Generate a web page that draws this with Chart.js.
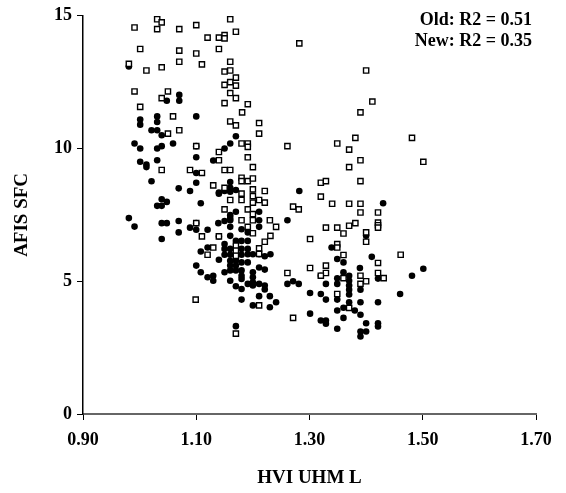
<!DOCTYPE html>
<html>
<head>
	<meta charset="utf-8">
	<title>AFIS SFC vs HVI UHML</title>
	<script type="text/javascript" src="https://cdn.jsdelivr.net/npm/chart.js@4/dist/chart.umd.min.js"></script>
	<style>
		body { margin: 0; background: #fff; }
	</style>
</head>
<body>
	<canvas id="myChart" width="566" height="493"></canvas>
	<script>
		// filled circles (Old)
		var oldX = [0.981,1.070,1.070,1.048,1.001,1.001,1.031,1.031,1.100,1.021,1.031,1.039,1.170,0.991,1.001,1.031,1.039,1.059,1.100,1.100,
			1.001,1.012,1.012,1.031,1.021,1.100,1.100,1.069,1.089,1.130,1.150,1.160,1.039,1.048,1.031,1.039,1.108,0.981,0.991,1.039,
			1.048,1.069,1.039,1.069,1.089,1.100,1.100,1.120,1.139,1.150,1.160,1.140,1.150,1.100,1.120,1.108,1.140,1.160,1.160,1.170,
			1.140,1.160,1.170,1.160,1.211,1.160,1.160,1.180,1.211,1.211,1.191,1.160,1.170,1.180,1.191,1.150,1.150,1.160,1.170,1.180,
			1.191,1.150,1.160,1.170,1.180,1.191,1.200,1.211,1.221,1.231,1.140,1.160,1.170,1.180,1.191,1.160,1.170,1.160,1.170,1.180,
			1.108,1.120,1.130,1.130,1.150,1.180,1.180,1.200,1.200,1.200,1.211,1.221,1.160,1.170,1.180,1.191,1.200,1.211,1.221,1.221,
			1.211,1.230,1.241,1.230,1.200,1.180,1.170,1.282,1.430,1.261,1.339,1.349,1.360,1.400,1.410,1.389,1.501,1.481,1.460,1.320,
			1.261,1.271,1.281,1.301,1.320,1.329,1.329,1.349,1.349,1.360,1.370,1.380,1.390,1.390,1.400,1.390,1.390,1.400,1.421,1.421,
			1.421,1.301,1.320,1.329,1.329,1.349,1.360,1.360,1.370,1.370,1.370,1.370,1.370,1.390,1.421,1.349,1.349];
		var oldY = [13.09,12.02,11.80,11.80,11.09,10.90,11.21,11.00,11.21,10.69,10.69,10.50,10.46,10.19,10.00,10.00,10.09,10.19,10.09,9.67,
			9.50,9.40,9.30,9.56,8.77,9.08,8.71,8.50,8.40,9.55,10.00,10.19,8.09,7.99,7.84,7.84,7.94,7.38,7.06,7.19,
			7.19,7.27,6.59,6.84,7.02,6.94,7.19,6.94,7.19,7.27,7.38,8.34,8.40,5.59,6.27,6.12,6.69,8.74,8.52,8.44,
			8.30,8.37,7.62,7.49,7.62,7.30,7.05,6.96,7.30,7.05,6.84,6.71,6.52,6.52,6.52,6.40,6.22,6.22,6.22,6.22,
			6.22,6.00,6.00,6.00,6.00,6.02,6.02,6.02,5.94,6.02,5.81,5.77,5.77,5.71,5.71,5.59,5.59,5.41,5.41,5.41,
			5.34,5.15,5.21,5.02,5.34,5.21,5.09,5.34,5.15,4.96,5.52,5.44,5.02,4.81,4.71,4.90,4.84,4.90,4.84,4.69,
			4.44,4.44,4.21,4.02,4.09,4.31,3.31,8.40,7.94,7.30,6.27,5.84,5.71,6.71,5.92,5.50,5.47,5.21,4.52,5.21,
			4.90,5.00,4.90,4.56,4.52,4.31,4.90,4.31,3.90,4.00,4.21,3.90,4.21,3.74,3.42,3.11,2.92,3.11,4.21,3.42,
			3.30,3.78,3.52,3.52,3.40,3.21,3.62,5.34,5.21,5.02,4.84,4.68,4.50,4.68,5.10,5.11,4.90];

		// open squares (New)
		var newX = [0.991,1.031,1.039,1.031,1.070,1.100,1.120,1.140,1.150,1.150,1.160,1.170,1.001,1.070,1.100,1.140,0.981,1.012,1.039,1.070,
			1.110,1.160,1.150,1.160,1.170,1.150,1.160,1.170,1.160,1.170,1.150,0.991,1.050,1.039,1.001,1.059,1.070,1.050,1.160,1.170,
			1.100,1.039,1.089,1.110,1.140,1.140,1.150,1.160,1.130,1.150,1.110,1.130,1.120,1.100,1.140,1.211,1.211,1.180,1.191,1.191,
			1.191,1.200,1.180,1.180,1.191,1.200,1.150,1.200,1.221,1.180,1.200,1.160,1.180,1.211,1.221,1.200,1.191,1.200,1.180,1.200,
			1.230,1.241,1.191,1.200,1.231,1.221,1.211,1.211,1.170,1.170,1.170,1.099,1.211,1.170,1.261,1.349,1.381,1.370,1.390,1.370,
			1.390,1.320,1.329,1.320,1.340,1.370,1.390,1.390,1.421,1.421,1.421,1.421,1.381,1.370,1.360,1.349,1.329,1.400,1.400,1.301,
			1.271,1.281,1.349,1.349,1.360,1.421,1.301,1.329,1.261,1.329,1.320,1.360,1.390,1.390,1.400,1.421,1.431,1.271,1.370,1.349,
			1.282,1.400,1.411,1.390,1.191,1.181,1.481,1.501,1.461];
		var newY = [14.56,14.87,14.75,14.50,14.50,14.65,14.18,14.18,14.27,14.15,14.87,14.40,13.75,13.69,13.58,13.75,13.19,12.94,13.06,13.27,
			13.17,13.27,12.90,12.94,12.67,12.40,12.50,12.37,12.09,11.90,11.71,12.15,12.15,11.90,11.57,11.21,10.69,10.56,11.02,10.87,
			10.09,9.19,9.19,9.08,9.87,9.56,9.19,9.19,8.61,7.71,6.69,6.27,6.00,7.19,6.69,10.96,10.56,10.19,10.19,10.06,
			9.67,9.30,8.90,8.77,8.77,8.87,8.52,8.46,8.40,8.30,8.21,8.06,8.06,8.06,7.96,7.96,7.71,7.53,7.30,7.30,
			7.30,7.05,7.05,6.81,6.71,6.49,6.24,6.03,6.34,6.15,5.96,4.31,4.09,3.03,10.09,10.19,10.40,9.96,9.56,9.30,
			8.77,8.71,8.77,8.19,7.92,7.92,7.92,7.59,7.59,7.21,7.11,7.02,7.19,7.09,6.80,7.02,7.02,6.84,6.49,6.59,
			7.81,7.71,6.40,6.27,5.99,5.69,5.50,5.59,5.31,5.31,5.21,5.12,5.21,4.90,5.00,5.31,5.12,3.62,4.00,4.52,
			13.96,12.94,11.77,11.36,11.67,11.36,10.40,9.50,6.00];

		var xTicks = [0.90, 1.10, 1.30, 1.50, 1.70];
		var yTicks = [0, 5, 10, 15];
		var notes = ['Old: R2 = 0.51', 'New: R2 = 0.35'];

		var serif = "'Liberation Serif', 'Times New Roman', serif";

		function toPoints(xs, ys) {
			var pts = [];
			for (var i = 0; i < xs.length; i++) pts.push({x: xs[i], y: ys[i]});
			return pts;
		}

		// R2 text in the top right corner
		var notePlugin = {
			id: 'notes',
			afterDraw: function(chart) {
				var ctx = chart.ctx;
				ctx.save();
				ctx.font = 'bold 18px ' + serif;
				ctx.fillStyle = '#000';
				ctx.textAlign = 'right';
				ctx.textBaseline = 'alphabetic';
				for (var i = 0; i < notes.length; i++) {
					ctx.fillText(notes[i], 532, 25 + i * 21);
				}
				ctx.restore();
			}
		};

		var ctx = document.getElementById('myChart').getContext('2d');
		var myChart = new Chart(ctx, {
			type: 'scatter',
			data: {
				datasets: [{
					label: 'Old',
					data: toPoints(oldX, oldY),
					pointStyle: 'circle',
					pointRadius: 3.3,
					backgroundColor: '#000',
					borderColor: '#000',
					borderWidth: 0,
					order: 1
				}, {
					label: 'New',
					data: toPoints(newX, newY),
					pointStyle: 'rect',
					pointRadius: 3.7,
					backgroundColor: '#fff',
					borderColor: '#000',
					borderWidth: 1.4,
					order: 0
				}]
			},
			options: {
				responsive: false,
				animation: false,
				layout: { padding: { top: 14, right: 30, left: 0, bottom: 0 } },
				scales: {
					x: {
						type: 'linear',
						min: 0.9,
						max: 1.7,
						afterFit: function(s) { s.height = 79; },
						afterBuildTicks: function(s) { s.ticks = xTicks.map(function(v) { return {value: v}; }); },
						grid: { drawOnChartArea: false, drawTicks: true, tickLength: 6, color: '#000', lineWidth: 1 },
						border: { display: true, color: '#666', width: 2 },
						ticks: {
							color: '#000',
							padding: 10,
							maxRotation: 0,
							font: { family: serif, size: 18, weight: 'bold' },
							callback: function(v) { return v.toFixed(2); }
						},
						title: {
							display: true,
							text: 'HVI UHM L',
							color: '#000',
							padding: { bottom: 4 },
							font: { family: serif, size: 19, weight: 'bold' }
						}
					},
					y: {
						type: 'linear',
						min: 0,
						max: 15,
						afterFit: function(s) { s.width = 83; },
						afterBuildTicks: function(s) { s.ticks = yTicks.map(function(v) { return {value: v}; }); },
						grid: { drawOnChartArea: false, drawTicks: true, tickLength: 6, color: '#000', lineWidth: 1 },
						border: { display: true, color: '#000', width: 1.5 },
						ticks: {
							color: '#000',
							padding: 5,
							font: { family: serif, size: 18, weight: 'bold' }
						},
						title: {
							display: true,
							text: 'AFIS SFC',
							color: '#000',
							padding: { top: 11 },
							font: { family: serif, size: 19, weight: 'bold' }
						}
					}
				},
				plugins: {
					legend: { display: false },
					tooltip: { enabled: false }
				}
			},
			plugins: [notePlugin]
		});
	</script>
</body>
</html>
